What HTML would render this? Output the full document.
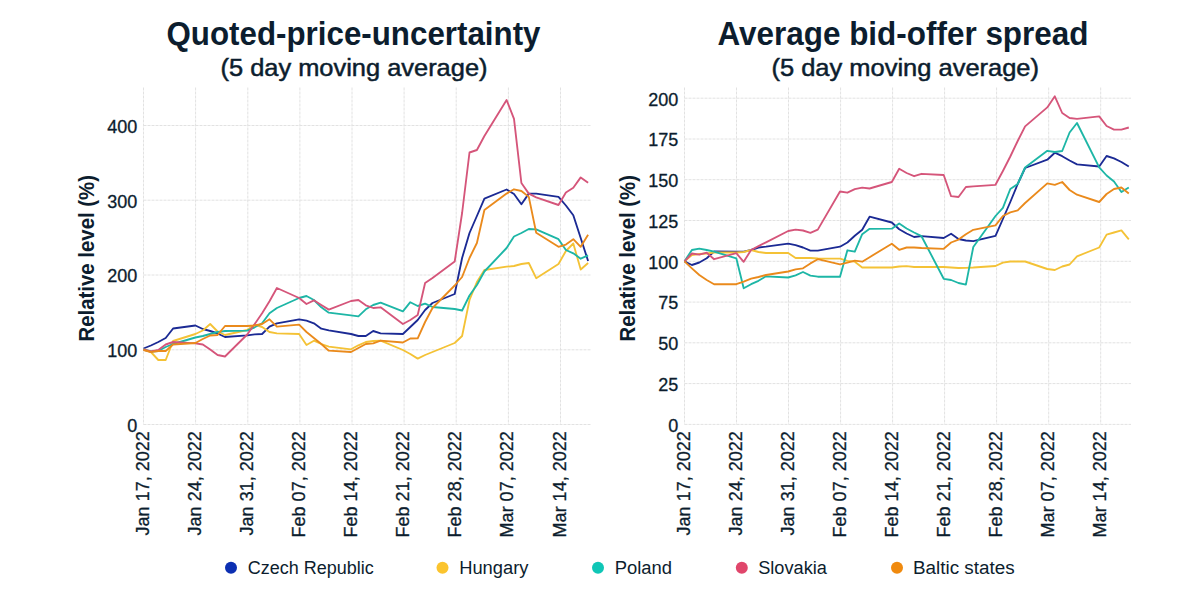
<!DOCTYPE html>
<html><head><meta charset="utf-8"><style>
html,body{margin:0;padding:0;background:#fff;}
body{width:1200px;height:600px;overflow:hidden;position:relative;font-family:"Liberation Sans",sans-serif;color:#0c1d2e;}
svg{position:absolute;left:0;top:0;}
</style></head><body>
<svg width="1200" height="600" viewBox="0 0 1200 600" font-family="Liberation Sans, sans-serif">
<g stroke="#e2e2e2" stroke-width="1" stroke-dasharray="3,1" fill="none"><line x1="143.5" y1="87.5" x2="143.5" y2="424.5" /><line x1="195.6" y1="87.5" x2="195.6" y2="424.5" /><line x1="247.8" y1="87.5" x2="247.8" y2="424.5" /><line x1="299.9" y1="87.5" x2="299.9" y2="424.5" /><line x1="352.0" y1="87.5" x2="352.0" y2="424.5" /><line x1="404.1" y1="87.5" x2="404.1" y2="424.5" /><line x1="456.2" y1="87.5" x2="456.2" y2="424.5" /><line x1="508.4" y1="87.5" x2="508.4" y2="424.5" /><line x1="560.5" y1="87.5" x2="560.5" y2="424.5" /><line x1="143.5" y1="424.5" x2="591" y2="424.5" /><line x1="143.5" y1="349.8" x2="591" y2="349.8" /><line x1="143.5" y1="275.0" x2="591" y2="275.0" /><line x1="143.5" y1="200.2" x2="591" y2="200.2" /><line x1="143.5" y1="125.5" x2="591" y2="125.5" /></g>
<g stroke="#e2e2e2" stroke-width="1" stroke-dasharray="3,1" fill="none"><line x1="684.5" y1="87.5" x2="684.5" y2="424.4" /><line x1="736.5" y1="87.5" x2="736.5" y2="424.4" /><line x1="788.5" y1="87.5" x2="788.5" y2="424.4" /><line x1="840.6" y1="87.5" x2="840.6" y2="424.4" /><line x1="892.6" y1="87.5" x2="892.6" y2="424.4" /><line x1="944.6" y1="87.5" x2="944.6" y2="424.4" /><line x1="996.6" y1="87.5" x2="996.6" y2="424.4" /><line x1="1048.7" y1="87.5" x2="1048.7" y2="424.4" /><line x1="1100.7" y1="87.5" x2="1100.7" y2="424.4" /><line x1="684.5" y1="424.4" x2="1131" y2="424.4" /><line x1="684.5" y1="383.6" x2="1131" y2="383.6" /><line x1="684.5" y1="342.8" x2="1131" y2="342.8" /><line x1="684.5" y1="302.1" x2="1131" y2="302.1" /><line x1="684.5" y1="261.3" x2="1131" y2="261.3" /><line x1="684.5" y1="220.5" x2="1131" y2="220.5" /><line x1="684.5" y1="179.7" x2="1131" y2="179.7" /><line x1="684.5" y1="139.0" x2="1131" y2="139.0" /><line x1="684.5" y1="98.2" x2="1131" y2="98.2" /></g>
<g font-size="18" fill="#0c1d2e" stroke="#0c1d2e" stroke-width="0.3"><text x="137.2" y="431.8" text-anchor="end">0</text><text x="137.2" y="357.1" text-anchor="end">100</text><text x="137.2" y="282.3" text-anchor="end">200</text><text x="137.2" y="207.5" text-anchor="end">300</text><text x="137.2" y="132.8" text-anchor="end">400</text></g>
<g font-size="18" fill="#0c1d2e" stroke="#0c1d2e" stroke-width="0.3"><text x="678.2" y="431.7" text-anchor="end">0</text><text x="678.2" y="390.9" text-anchor="end">25</text><text x="678.2" y="350.1" text-anchor="end">50</text><text x="678.2" y="309.4" text-anchor="end">75</text><text x="678.2" y="268.6" text-anchor="end">100</text><text x="678.2" y="227.8" text-anchor="end">125</text><text x="678.2" y="187.0" text-anchor="end">150</text><text x="678.2" y="146.3" text-anchor="end">175</text><text x="678.2" y="105.5" text-anchor="end">200</text></g>
<g font-size="18" fill="#0c1d2e" stroke="#0c1d2e" stroke-width="0.3"><text transform="translate(148.5,431.3) rotate(-90)" text-anchor="end">Jan 17, 2022</text><text transform="translate(200.6,431.3) rotate(-90)" text-anchor="end">Jan 24, 2022</text><text transform="translate(252.8,431.3) rotate(-90)" text-anchor="end">Jan 31, 2022</text><text transform="translate(304.9,431.3) rotate(-90)" text-anchor="end">Feb 07, 2022</text><text transform="translate(357.0,431.3) rotate(-90)" text-anchor="end">Feb 14, 2022</text><text transform="translate(409.1,431.3) rotate(-90)" text-anchor="end">Feb 21, 2022</text><text transform="translate(461.2,431.3) rotate(-90)" text-anchor="end">Feb 28, 2022</text><text transform="translate(513.4,431.3) rotate(-90)" text-anchor="end">Mar 07, 2022</text><text transform="translate(565.5,431.3) rotate(-90)" text-anchor="end">Mar 14, 2022</text></g>
<g font-size="18" fill="#0c1d2e" stroke="#0c1d2e" stroke-width="0.3"><text transform="translate(689.5,431.3) rotate(-90)" text-anchor="end">Jan 17, 2022</text><text transform="translate(741.5,431.3) rotate(-90)" text-anchor="end">Jan 24, 2022</text><text transform="translate(793.5,431.3) rotate(-90)" text-anchor="end">Jan 31, 2022</text><text transform="translate(845.6,431.3) rotate(-90)" text-anchor="end">Feb 07, 2022</text><text transform="translate(897.6,431.3) rotate(-90)" text-anchor="end">Feb 14, 2022</text><text transform="translate(949.6,431.3) rotate(-90)" text-anchor="end">Feb 21, 2022</text><text transform="translate(1001.6,431.3) rotate(-90)" text-anchor="end">Feb 28, 2022</text><text transform="translate(1053.7,431.3) rotate(-90)" text-anchor="end">Mar 07, 2022</text><text transform="translate(1105.7,431.3) rotate(-90)" text-anchor="end">Mar 14, 2022</text></g>
<polyline fill="none" stroke="#1b2a94" stroke-width="1.85" stroke-linejoin="round" points="143.5,348.5 150.9,345.5 158.3,342.0 165.7,338.0 173.1,328.5 195.4,325.5 202.8,329.0 210.2,331.0 217.6,333.5 225.0,337.0 247.2,335.3 254.7,334.4 262.1,334.0 269.5,326.7 276.9,323.3 299.1,319.3 306.5,320.7 313.9,323.3 321.3,328.7 328.8,330.4 351.0,334.0 358.4,336.0 365.8,336.0 373.2,331.0 380.6,333.3 402.9,334.0 410.3,327.0 417.7,320.0 425.1,310.0 432.5,303.0 454.7,294.0 462.1,258.0 469.5,233.0 476.9,216.0 484.4,198.6 506.6,189.5 514.0,194.0 521.4,204.3 528.8,193.6 536.2,193.6 558.5,196.9 565.9,205.5 573.3,215.3 580.7,238.0 588.1,261.0"/>
<polyline fill="none" stroke="#f4c236" stroke-width="1.85" stroke-linejoin="round" points="143.5,349.5 150.9,352.0 158.3,360.0 165.7,360.0 173.1,341.0 195.4,334.0 202.8,330.5 210.2,324.0 217.6,331.5 225.0,335.0 247.2,330.0 254.7,324.5 262.1,327.0 269.5,332.0 276.9,333.3 299.1,334.0 306.5,345.0 313.9,340.7 321.3,344.0 328.8,346.7 351.0,349.3 358.4,345.3 365.8,342.0 373.2,341.0 380.6,340.7 402.9,350.0 410.3,354.0 417.7,358.6 425.1,355.0 432.5,352.0 454.7,343.0 462.1,336.0 469.5,300.0 476.9,282.0 484.4,270.0 506.6,266.7 514.0,266.0 521.4,264.0 528.8,263.0 536.2,278.2 558.5,264.0 565.9,251.0 573.3,243.5 580.7,269.5 588.1,263.0"/>
<polyline fill="none" stroke="#1db6a6" stroke-width="1.85" stroke-linejoin="round" points="143.5,349.5 150.9,351.5 158.3,351.0 165.7,347.0 173.1,344.0 195.4,337.5 202.8,336.0 210.2,334.0 217.6,332.0 225.0,331.0 247.2,330.7 254.7,327.3 262.1,323.3 269.5,313.3 276.9,308.0 299.1,298.0 306.5,296.0 313.9,300.0 321.3,307.3 328.8,312.7 351.0,315.3 358.4,316.3 365.8,309.3 373.2,305.0 380.6,302.7 402.9,311.3 410.3,302.2 417.7,306.0 425.1,303.6 432.5,307.0 454.7,309.0 462.1,310.5 469.5,295.5 476.9,285.0 484.4,271.5 506.6,248.0 514.0,236.5 521.4,233.0 528.8,229.0 536.2,229.4 558.5,239.2 565.9,250.0 573.3,253.3 580.7,258.7 588.1,255.4"/>
<polyline fill="none" stroke="#d5557a" stroke-width="1.85" stroke-linejoin="round" points="143.5,349.5 150.9,351.5 158.3,350.0 165.7,344.5 173.1,342.0 195.4,343.3 202.8,344.5 210.2,349.5 217.6,355.0 225.0,356.5 247.2,334.5 254.7,324.0 262.1,313.3 269.5,301.3 276.9,288.0 299.1,298.0 306.5,304.0 313.9,300.3 321.3,305.0 328.8,309.6 351.0,301.0 358.4,300.0 365.8,305.3 373.2,308.0 380.6,307.3 402.9,324.0 410.3,320.0 417.7,315.0 425.1,283.0 432.5,278.0 454.7,261.5 462.1,213.0 469.5,152.5 476.9,150.0 484.4,136.0 506.6,100.0 514.0,118.8 521.4,183.0 528.8,193.6 536.2,197.4 558.5,205.0 565.9,192.5 573.3,187.8 580.7,177.4 588.1,182.8"/>
<polyline fill="none" stroke="#ea8a1c" stroke-width="1.85" stroke-linejoin="round" points="143.5,350.0 150.9,352.0 158.3,351.0 165.7,351.0 173.1,344.5 195.4,343.0 202.8,339.0 210.2,335.5 217.6,335.0 225.0,326.0 247.2,326.0 254.7,325.5 262.1,324.0 269.5,319.3 276.9,326.7 299.1,324.7 306.5,332.0 313.9,338.0 321.3,344.0 328.8,350.7 351.0,352.0 358.4,348.0 365.8,344.0 373.2,343.3 380.6,340.7 402.9,342.5 410.3,338.5 417.7,338.3 425.1,322.0 432.5,308.0 454.7,285.5 462.1,277.0 469.5,258.0 476.9,243.0 484.4,210.0 506.6,193.6 514.0,189.3 521.4,191.0 528.8,196.9 536.2,232.7 558.5,246.8 565.9,244.6 573.3,239.2 580.7,246.8 588.1,234.8"/>
<polyline fill="none" stroke="#1b2a94" stroke-width="1.85" stroke-linejoin="round" points="684.5,261.3 691.9,265.0 699.3,262.5 706.7,258.3 714.1,251.5 736.3,251.7 743.7,251.7 751.1,250.0 758.5,247.5 766.0,246.7 788.2,243.7 795.6,245.2 803.0,247.5 810.4,250.6 817.8,250.6 840.0,246.7 847.4,242.5 854.8,235.8 862.2,229.7 869.6,216.7 891.8,222.5 899.2,229.2 906.6,233.5 914.1,237.0 921.5,236.2 943.7,238.0 951.1,233.8 958.5,239.0 965.9,240.5 973.3,241.2 995.5,235.8 1002.9,219.0 1010.3,202.0 1017.7,184.0 1025.1,168.0 1047.3,159.7 1054.8,152.7 1062.2,156.2 1069.6,160.5 1077.0,164.4 1099.2,166.5 1106.6,156.0 1114.0,158.4 1121.4,162.0 1128.8,166.5"/>
<polyline fill="none" stroke="#f4c236" stroke-width="1.85" stroke-linejoin="round" points="684.5,261.3 691.9,255.0 699.3,254.0 706.7,253.5 714.1,252.5 736.3,252.5 743.7,252.0 751.1,250.0 758.5,252.0 766.0,253.0 788.2,253.0 795.6,258.0 803.0,258.0 810.4,258.0 817.8,258.5 840.0,258.7 847.4,260.8 854.8,261.7 862.2,267.5 869.6,267.5 891.8,267.5 899.2,266.5 906.6,266.2 914.1,267.0 921.5,267.0 943.7,267.0 951.1,267.5 958.5,268.0 965.9,267.8 973.3,267.5 995.5,266.0 1002.9,262.6 1010.3,261.5 1017.7,261.5 1025.1,261.5 1047.3,269.0 1054.8,270.0 1062.2,266.5 1069.6,264.5 1077.0,256.3 1099.2,247.5 1106.6,234.6 1114.0,232.5 1121.4,230.4 1128.8,239.4"/>
<polyline fill="none" stroke="#1db6a6" stroke-width="1.85" stroke-linejoin="round" points="684.5,261.3 691.9,250.0 699.3,248.7 706.7,250.0 714.1,251.7 736.3,258.3 743.7,288.3 751.1,284.2 758.5,280.8 766.0,276.3 788.2,277.5 795.6,275.3 803.0,272.0 810.4,275.6 817.8,276.7 840.0,276.7 847.4,250.3 854.8,251.7 862.2,234.2 869.6,228.8 891.8,228.7 899.2,223.5 906.6,228.5 914.1,232.5 921.5,236.2 943.7,278.8 951.1,280.0 958.5,283.0 965.9,284.6 973.3,247.0 995.5,216.0 1002.9,207.8 1010.3,189.0 1017.7,184.0 1025.1,167.5 1047.3,150.8 1054.8,152.0 1062.2,151.0 1069.6,132.5 1077.0,123.0 1099.2,167.4 1106.6,175.5 1114.0,181.5 1121.4,192.0 1128.8,187.5"/>
<polyline fill="none" stroke="#d5557a" stroke-width="1.85" stroke-linejoin="round" points="684.5,261.3 691.9,253.5 699.3,254.7 706.7,252.7 714.1,259.2 736.3,253.2 743.7,261.8 751.1,250.0 758.5,246.1 766.0,242.3 788.2,231.0 795.6,229.6 803.0,230.5 810.4,232.8 817.8,229.6 840.0,191.5 847.4,192.7 854.8,189.2 862.2,187.6 869.6,188.5 891.8,182.0 899.2,168.8 906.6,173.0 914.1,176.2 921.5,173.8 943.7,175.0 951.1,196.2 958.5,197.0 965.9,187.0 973.3,186.3 995.5,184.8 1002.9,171.0 1010.3,156.5 1017.7,141.0 1025.1,126.4 1047.3,107.4 1054.8,96.3 1062.2,113.0 1069.6,118.0 1077.0,118.8 1099.2,116.4 1106.6,126.0 1114.0,129.6 1121.4,129.6 1128.8,127.5"/>
<polyline fill="none" stroke="#ea8a1c" stroke-width="1.85" stroke-linejoin="round" points="684.5,261.3 691.9,268.3 699.3,275.0 706.7,280.0 714.1,284.2 736.3,284.2 743.7,281.7 751.1,278.7 758.5,277.0 766.0,275.0 788.2,271.5 795.6,269.3 803.0,268.3 810.4,263.4 817.8,259.2 840.0,264.4 847.4,262.6 854.8,260.6 862.2,261.7 869.6,257.2 891.8,243.7 899.2,249.8 906.6,247.5 914.1,247.5 921.5,248.0 943.7,248.8 951.1,242.5 958.5,239.6 965.9,234.3 973.3,229.8 995.5,225.3 1002.9,216.0 1010.3,212.3 1017.7,210.3 1025.1,203.0 1047.3,183.4 1054.8,184.8 1062.2,182.0 1069.6,190.0 1077.0,194.7 1099.2,202.0 1106.6,194.0 1114.0,189.0 1121.4,187.5 1128.8,193.5"/>
<g fill="#0c1d2e" text-anchor="start"><text x="166.5" y="44.5" font-size="32.5" font-weight="bold" textLength="374" lengthAdjust="spacingAndGlyphs">Quoted-price-uncertainty</text><text x="220.5" y="75.8" font-size="24.2" stroke="#0c1d2e" stroke-width="0.5" textLength="267" lengthAdjust="spacingAndGlyphs">(5 day moving average)</text><text x="717.5" y="44.5" font-size="32.5" font-weight="bold" textLength="371" lengthAdjust="spacingAndGlyphs">Average bid-offer spread</text><text x="771.5" y="75.8" font-size="24.2" stroke="#0c1d2e" stroke-width="0.5" textLength="267.5" lengthAdjust="spacingAndGlyphs">(5 day moving average)</text><text transform="translate(94,341.5) rotate(-90)" font-size="21.8" font-weight="bold" textLength="166.5" lengthAdjust="spacingAndGlyphs">Relative level (%)</text><text transform="translate(635,341.5) rotate(-90)" font-size="21.8" font-weight="bold" textLength="166.5" lengthAdjust="spacingAndGlyphs">Relative level (%)</text></g>
<g font-size="18" fill="#0c1d2e"><circle cx="231" cy="567.8" r="6" fill="#0c2fb2"/><text x="247.7" y="574" textLength="126" lengthAdjust="spacingAndGlyphs">Czech Republic</text><circle cx="442.5" cy="567.8" r="6" fill="#fbc42e"/><text x="459.2" y="574" textLength="69.3" lengthAdjust="spacingAndGlyphs">Hungary</text><circle cx="598" cy="567.8" r="6" fill="#0fc6b6"/><text x="614.7" y="574" textLength="57.3" lengthAdjust="spacingAndGlyphs">Poland</text><circle cx="741.8" cy="567.8" r="6" fill="#e0466b"/><text x="758.2" y="574" textLength="68.7" lengthAdjust="spacingAndGlyphs">Slovakia</text><circle cx="897" cy="567.8" r="6" fill="#f08a0e"/><text x="913.0" y="574" textLength="101.7" lengthAdjust="spacingAndGlyphs">Baltic states</text></g>
</svg>
</body></html>
